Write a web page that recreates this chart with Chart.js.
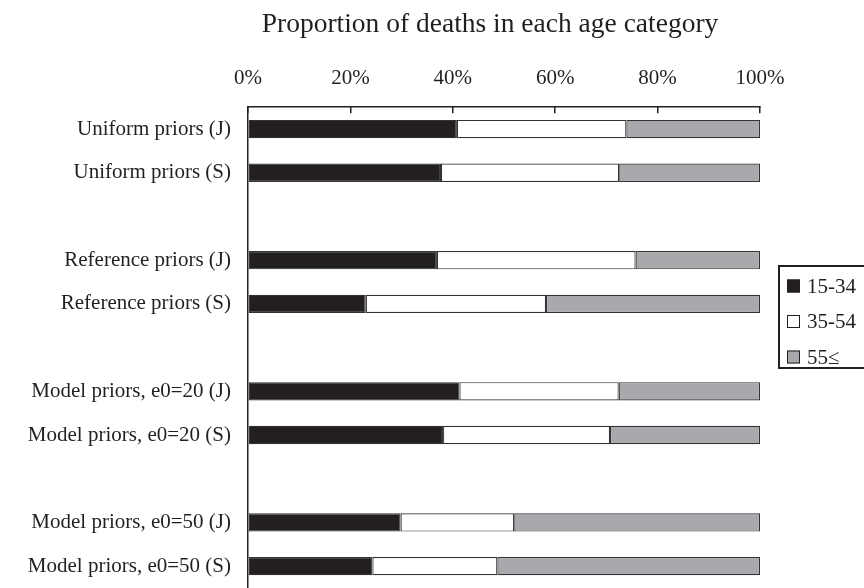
<!DOCTYPE html>
<html>
<head>
<meta charset="utf-8">
<script src="https://cdn.jsdelivr.net/npm/chart.js@4/dist/chart.umd.min.js"></script>
<style>
  html, body { margin: 0; padding: 0; background: #fff; overflow: hidden; }
  canvas { display: block; }
</style>
</head>
<body>
<canvas id="ageChart" width="864" height="588"></canvas>
<script>
// rows (empty strings are the spacer rows between groups)
const rowLabels = [
  'Uniform priors (J)', 'Uniform priors (S)', '',
  'Reference priors (J)', 'Reference priors (S)', '',
  'Model priors, e0=20 (J)', 'Model priors, e0=20 (S)', '',
  'Model priors, e0=50 (J)', 'Model priors, e0=50 (S)'
];

// percent of deaths per age group
const age15to34 = [40.8, 37.7, null, 36.9, 23.0, null, 41.3, 38.1, null, 29.8, 24.3];
const age35to54 = [33.1, 34.8, null, 38.8, 35.2, null, 31.1, 32.6, null, 22.2, 24.4];
const age55up   = [26.1, 27.5, null, 24.3, 41.8, null, 27.6, 29.3, null, 48.0, 51.3];

const seriesNames = ['15-34', '35-54', '55\u2264'];
const tickValues = [0, 20, 40, 60, 80, 100];
const chartTitle = 'Proportion of deaths in each age category';

const serif = "'Liberation Serif', 'Times New Roman', serif";
const ink = '#231f20';

// title is not centred on the canvas in the original, so draw it ourselves
const titlePlugin = {
  id: 'topTitle',
  afterDraw(chart) {
    const ctx = chart.ctx;
    ctx.save();
    ctx.fillStyle = ink;
    ctx.font = '27.5px ' + serif;
    ctx.textAlign = 'center';
    ctx.textBaseline = 'alphabetic';
    ctx.fillText(chartTitle, 490, 32);
    ctx.restore();
  }
};

// boxed legend sitting at the right edge
const boxLegend = {
  id: 'boxLegend',
  afterDraw(chart) {
    const ctx = chart.ctx;
    const left = 779, top = 266, bottom = 368;
    ctx.save();
    ctx.strokeStyle = ink;
    ctx.lineWidth = 2;
    ctx.strokeRect(left, top, 100, bottom - top);
    ctx.font = '21px ' + serif;
    ctx.textBaseline = 'middle';
    chart.data.datasets.forEach((ds, i) => {
      const cy = 286 + i * 35.5;
      ctx.fillStyle = ds.backgroundColor;
      ctx.fillRect(787, cy - 6.5, 13, 13);
      ctx.strokeStyle = ink;
      ctx.lineWidth = 1;
      ctx.strokeRect(787.5, cy - 6, 12, 12);
      ctx.fillStyle = ink;
      ctx.fillText(ds.label, 807, cy + 1);
    });
    ctx.restore();
  }
};

const barStyle = {
  borderColor: '#333333',
  borderWidth: 1.2,
  borderSkipped: false,
  barPercentage: 0.42,
  categoryPercentage: 1.0
};

const data = {
  labels: rowLabels,
  datasets: [
    Object.assign({ label: seriesNames[0], data: age15to34, backgroundColor: '#231f20' }, barStyle),
    Object.assign({ label: seriesNames[1], data: age35to54, backgroundColor: '#ffffff' }, barStyle),
    Object.assign({ label: seriesNames[2], data: age55up, backgroundColor: '#a7a9ac' }, barStyle)
  ]
};

const config = {
  type: 'bar',
  data: data,
  options: {
    indexAxis: 'y',
    responsive: false,
    animation: false,
    layout: { padding: { top: 44, right: 104, bottom: 0, left: 0 } },
    plugins: {
      legend: { display: false },
      title: { display: false },
      tooltip: { enabled: false }
    },
    scales: {
      x: {
        position: 'top',
        stacked: true,
        min: 0,
        max: 100,
        afterBuildTicks(scale) {
          scale.ticks = tickValues.map(v => ({ value: v }));
        },
        afterFit(scale) {
          scale.paddingLeft = 0;
          scale.paddingRight = 0;
        },
        ticks: {
          color: ink,
          font: { family: serif, size: 21 },
          padding: 22,
          callback: v => v + '%'
        },
        grid: {
          drawOnChartArea: false,
          drawTicks: true,
          tickLength: -6,
          color: ink,
          lineWidth: 1.5
        },
        border: { display: true, color: ink, width: 1.5 }
      },
      y: {
        stacked: true,
        afterFit(scale) {
          scale.width = 248;
          scale.paddingTop = 0;
          scale.paddingBottom = 0;
        },
        ticks: {
          color: ink,
          font: { family: serif, size: 21 },
          padding: 17,
          autoSkip: false
        },
        grid: { display: false, drawTicks: false },
        border: { display: true, color: ink, width: 1.5 }
      }
    }
  },
  plugins: [titlePlugin, boxLegend]
};

window.myChart = new Chart(document.getElementById('ageChart'), config);
</script>
</body>
</html>
